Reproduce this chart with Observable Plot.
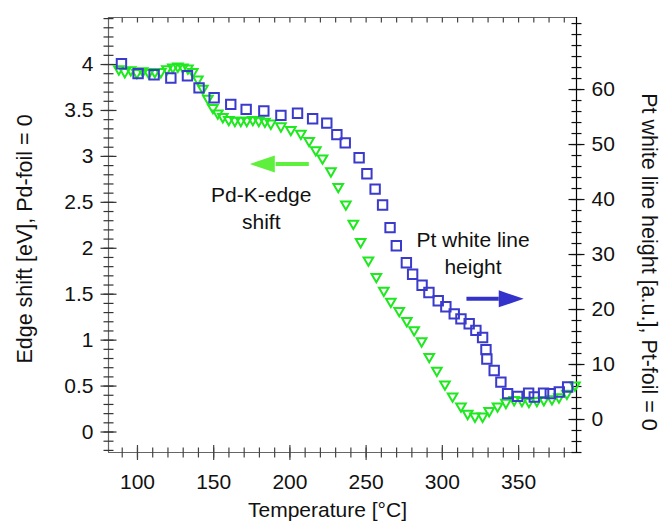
<!DOCTYPE html>
<html><head><meta charset="utf-8">
<script src="https://cdn.jsdelivr.net/npm/d3@7"></script>
<script src="https://cdn.jsdelivr.net/npm/@observablehq/plot@0.6"></script>
<style>body{margin:0;background:#fff}</style>
</head><body><div id="chart"></div>
<script>
// Pd-K-edge shift (left axis, eV) — green inverted triangles
const pdTemp = [87.8,91.7,95.6,99.6,103.5,107.4,111.4,115.3,119.3,123.2,126.5,129.8,133.1,136.3,139.6,142.9,146.2,149.5,152.7,156.0,159.9,163.9,167.8,171.7,175.7,179.6,183.6,187.5,194.1,200.6,207.2,212.6,217.0,221.4,226.9,231.7,236.7,241.6,246.4,251.5,256.7,261.6,266.2,271.7,276.7,281.5,286.4,291.4,296.4,301.7,306.7,312.2,316.6,321.4,326.4,330.7,336.2,341.7,347.1,352.2,356.8,362.0,366.6,371.9,376.5,381.7,387.0];
const pdShift = [3.95,3.92,3.94,3.91,3.93,3.91,3.92,3.92,3.95,3.97,3.98,3.97,3.96,3.92,3.84,3.74,3.63,3.53,3.47,3.43,3.40,3.39,3.39,3.39,3.40,3.39,3.38,3.36,3.33,3.29,3.25,3.17,3.07,2.98,2.84,2.67,2.48,2.27,2.07,1.87,1.69,1.54,1.42,1.32,1.21,1.11,0.99,0.82,0.67,0.52,0.39,0.28,0.20,0.17,0.17,0.23,0.28,0.32,0.35,0.34,0.33,0.34,0.35,0.36,0.38,0.42,0.51];
// Pt white line height (right axis, a.u.) — blue squares
const ptTemp = [89.5,100.4,110.9,121.9,132.8,140.4,150.3,161.2,171.3,182.9,194.1,205.0,214.9,224.2,230.8,236.3,245.4,250.5,255.9,260.8,265.7,269.8,276.4,280.5,286.7,291.2,297.3,302.3,307.8,312.2,317.6,322.0,326.4,328.6,329.2,334.0,338.4,342.8,349.4,356.6,360.3,366.4,370.8,376.7,382.2];
const ptHeight = [64.7,62.9,62.7,62.1,62.5,60.3,58.5,57.3,56.4,56.1,55.3,55.7,54.7,53.9,51.8,50.3,47.6,44.7,41.9,39.0,34.9,31.6,28.5,26.4,24.4,23.1,21.6,20.5,19.2,18.3,17.4,16.2,14.9,12.7,11.0,8.9,6.8,4.7,4.2,4.8,4.1,4.8,4.7,5.0,5.9];

// tick labels
const xMajor = [100,150,200,250,300,350];
const yLeftMajor = [0,0.5,1,1.5,2,2.5,3,3.5,4];
const yRightMajor = [0,10,20,30,40,50,60];
const xMinor = d3.range(90, 390, 10);
const yLeftMinor = d3.range(-2, 46).map(i => i / 10);
const yRightMinor = d3.range(-6, 73, 2);

// texts
const xTitle = "Temperature [°C]";
const yLeftTitle = "Edge shift [eV], Pd-foil = 0";
const yRightTitle = "Pt white line height [a.u.], Pt-foil = 0";
const pdNote = ["Pd-K-edge", "shift"];
const ptNote = ["Pt white line", "height"];

// domains
const xDom = [81, 388];
const yDom = [-0.223, 4.512];
const rDom = [-6, 73.1];
const toLeft = r => yDom[0] + (r - rDom[0]) / (rDom[1] - rDom[0]) * (yDom[1] - yDom[0]);
const fromLeft = v => rDom[0] + (v - yDom[0]) / (yDom[1] - yDom[0]) * (rDom[1] - rDom[0]);

const pd = pdTemp.map((t, i) => ({t, v: pdShift[i]}));
const pt = ptTemp.map((t, i) => ({t, v: toLeft(ptHeight[i])}));

// annotation anchors (data units)
const pdLabel = [{t: 181.2, v: 2.582, s: pdNote[0]}, {t: 181.2, v: 2.288, s: pdNote[1]}];
const ptLabel = [{t: 320.1, v: 2.092, s: ptNote[0]}, {t: 320.1, v: 1.798, s: ptNote[1]}];
const pdArrow = {tail: 212.4, base: 190.6, tip: 173.7, v: 2.917};
const ptArrow = {tail: 315.8, base: 337.0, tip: 353.4, v: 1.450};

// custom symbols
const vTick = len => ({draw(c){c.moveTo(0,-len); c.lineTo(0,len);}});
const vTickDown = len => ({draw(c){c.moveTo(0,0); c.lineTo(0,len);}});
const hTick = len => ({draw(c){c.moveTo(-len,0); c.lineTo(len,0);}});
const headLeft = {draw(c){c.moveTo(0,0); c.lineTo(25,-8.5); c.lineTo(25,8.5); c.closePath();}};
const headRight = {draw(c){c.moveTo(0,0); c.lineTo(-25,-8.5); c.lineTo(-25,8.5); c.closePath();}};

const font = "Liberation Sans, Arial, Helvetica, sans-serif";
const FS = 21;
const gray = "#666";

const chart = Plot.plot({
  width: 662, height: 527,
  marginLeft: 108, marginRight: 86, marginTop: 17, marginBottom: 75,
  style: {fontFamily: font, fontSize: FS + "px", background: "white", color: "#111"},
  x: {domain: xDom, range: [108, 576]},
  y: {domain: yDom},
  marks: [
    // frame
    Plot.ruleY([yDom[0]], {stroke: gray, strokeWidth: 1.2}),
    Plot.ruleY([yDom[1]], {stroke: gray, strokeWidth: 1.2}),
    Plot.ruleX([xDom[0]], {stroke: gray, strokeWidth: 1.2}),
    Plot.ruleX([xDom[1]], {stroke: "#000", strokeWidth: 1.2}),
    // bottom ticks
    Plot.dot(xMinor, {x: d => d, y: () => yDom[0], symbol: vTick(5), fill: "none", stroke: "#444", strokeWidth: 1.2}),
    Plot.dot(xMajor, {x: d => d, y: () => yDom[0], symbol: vTick(7.5), fill: "none", stroke: "#444", strokeWidth: 1.2}),
    // top ticks (inward)
    Plot.dot(xMinor, {x: d => d, y: () => yDom[1], symbol: vTickDown(5), fill: "none", stroke: "#444", strokeWidth: 1.2}),
    // left ticks
    Plot.dot(yLeftMinor, {x: () => xDom[0], y: d => d, symbol: hTick(5), fill: "none", stroke: "#333", strokeWidth: 1.2}),
    Plot.dot(yLeftMajor, {x: () => xDom[0], y: d => d, symbol: hTick(8), fill: "none", stroke: "#333", strokeWidth: 1.2}),
    // right ticks
    Plot.dot(yRightMinor, {x: () => xDom[1], y: d => toLeft(d), symbol: hTick(5), fill: "none", stroke: "#111", strokeWidth: 1.2}),
    Plot.dot(yRightMajor, {x: () => xDom[1], y: d => toLeft(d), symbol: hTick(8), fill: "none", stroke: "#111", strokeWidth: 1.2}),
    // tick labels
    Plot.axisX(xMajor, {anchor: "bottom", tickSize: 0, tickPadding: 22, fontSize: FS, label: null, tickFormat: d => String(d)}),
    Plot.axisY(yLeftMajor, {anchor: "left", tickSize: 0, tickPadding: 15, fontSize: FS, label: null, tickFormat: d => String(d)}),
    Plot.axisY(yRightMajor.map(toLeft), {anchor: "right", tickSize: 0, tickPadding: 15, fontSize: FS, label: null, tickFormat: d => String(Math.round(fromLeft(d)))}),
    // axis titles
    Plot.text([xTitle], {frameAnchor: "bottom", text: d => d, textAnchor: "middle", lineAnchor: "middle", dx: -15, dy: 58, fontSize: FS}),
    Plot.text([yLeftTitle], {frameAnchor: "left", text: d => d, textAnchor: "middle", lineAnchor: "middle", rotate: -90, dx: -83, dy: 4, fontSize: 21.5}),
    Plot.text([yRightTitle], {frameAnchor: "right", text: d => d, textAnchor: "middle", lineAnchor: "middle", rotate: 90, dx: 72, dy: 27, fontSize: 21.5}),
    // data
    Plot.dot(pd, {x: "t", y: "v", symbol: "triangle2", rotate: 180, r: 4.6, fill: "none", stroke: "#1ee81e", strokeWidth: 2}),
    Plot.dot(pt, {x: "t", y: "v", symbol: "square", r: 5.3, fill: "none", stroke: "#3a3acc", strokeWidth: 2}),
    // annotations
    Plot.text(pdLabel, {x: "t", y: "v", text: "s", fontSize: FS, fill: "#111"}),
    Plot.text(ptLabel, {x: "t", y: "v", text: "s", fontSize: FS, fill: "#111"}),
    Plot.link([pdArrow], {x1: "tail", x2: "base", y1: "v", y2: "v", stroke: "#5ef03c", strokeWidth: 4}),
    Plot.dot([pdArrow], {x: "tip", y: "v", symbol: headLeft, fill: "#5ef03c", stroke: "none"}),
    Plot.link([ptArrow], {x1: "tail", x2: "base", y1: "v", y2: "v", stroke: "#3333cc", strokeWidth: 4}),
    Plot.dot([ptArrow], {x: "tip", y: "v", symbol: headRight, fill: "#3333cc", stroke: "none"})
  ]
});
document.getElementById("chart").appendChild(chart);
</script>
</body></html>
